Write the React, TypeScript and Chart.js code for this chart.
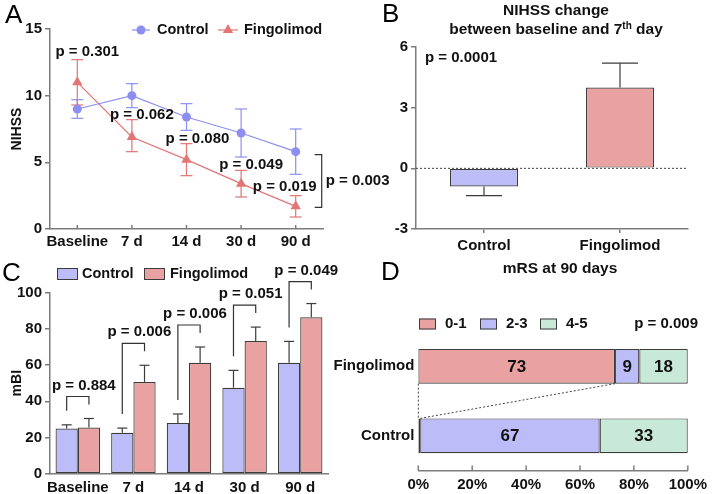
import React, { useEffect, useRef } from "react";
import { Chart, registerables } from "chart.js";

Chart.register(...registerables);

const FONT = "'Liberation Sans', Arial, Helvetica, sans-serif";

// ---------- Panel A: NIHSS over time ----------
const timeLabels = ["Baseline", "7 d", "14 d", "30 d", "90 d"];
const nihssControl = [9.0, 10.0, 8.4, 7.2, 5.8];
const nihssControlLo = [8.3, 9.1, 7.4, 5.4, 4.1];
const nihssControlHi = [9.7, 10.9, 9.4, 9.0, 7.5];
const nihssFingo = [11.0, 6.9, 5.2, 3.4, 1.7];
const nihssFingoLo = [9.3, 5.8, 4.0, 2.4, 0.9];
const nihssFingoHi = [12.7, 8.2, 6.4, 4.4, 2.5];
const nihssPValues = ["p = 0.301", "p = 0.062", "p = 0.080", "p = 0.049", "p = 0.019"];
const nihssOverallP = "p = 0.003";
const nihssTicks = [0, 5, 10, 15];

// ---------- Panel B: NIHSS change ----------
const changeGroups = ["Control", "Fingolimod"];
const changeValues = [-0.9, 4.0];
const changeErr = [0.45, 1.2];
const changeP = "p = 0.0001";

// ---------- Panel C: mBI ----------
const mbiControl = [25, 22.6, 28, 47.5, 61.3];
const mbiControlErr = [2, 2.6, 5, 9.6, 11.8];
const mbiFingo = [25.5, 50.7, 61.3, 73.3, 86.4];
const mbiFingoErr = [5, 9.2, 8.7, 7.7, 7.6];
const mbiPValues = ["p = 0.884", "p = 0.006", "p = 0.006", "p = 0.051", "p = 0.049"];

// ---------- Panel D: mRS at 90 days ----------
const mrsGroups = ["Fingolimod", "Control"];
const mrsCategories = ["0-1", "2-3", "4-5"];
const mrs01 = [73, 0.7];
const mrs23 = [9, 66.6];
const mrs45 = [18, 32.7];
const mrsP = "p = 0.009";

// ---------- styles ----------
const C_LINE = "#8e8ef2";
const F_LINE = "#e27575";
const C_FILL = "#bcbcf9";
const F_FILL = "#e9a1a1";
const G_FILL = "#c8e9d7";
const AXIS = "#7c7c7c";
const EDGE = "#3c3c3c";
const TEXT = "#111111";
const bold = (s = 14) => `bold ${s}px ${FONT}`;
const tickFont = { family: FONT, size: 15, weight: "bold" as const };
const titleFont = { family: FONT, size: 14, weight: "bold" as const };
const P_FONT = bold(15);
const LEG_FONT = bold(14.5);
const HEAD_FONT = bold(15.5);
const LETTER_FONT = `26px ${FONT}`;

function drawText(ctx: any, s: string, x: number, y: number, font: string, align = "left", baseline = "middle", color = TEXT) {
  ctx.save();
  ctx.font = font;
  ctx.fillStyle = color;
  ctx.textAlign = align;
  ctx.textBaseline = baseline;
  ctx.fillText(s, x, y);
  ctx.restore();
}

function line(ctx: any, x1: number, y1: number, x2: number, y2: number, color: string, w = 1, dash: number[] = []) {
  ctx.save();
  ctx.strokeStyle = color;
  ctx.lineWidth = w;
  ctx.setLineDash(dash);
  ctx.beginPath();
  ctx.moveTo(x1, y1);
  ctx.lineTo(x2, y2);
  ctx.stroke();
  ctx.restore();
}

function layoutFor(box: any, area: any) {
  return {
    padding: { left: 0, top: area.t - box.y, right: box.x + box.w - area.r, bottom: 0 },
    yWidth: area.l - box.x,
    xHeight: box.y + box.h - area.b,
  };
}

const yGrid = { display: true, drawOnChartArea: false, tickLength: 5, color: AXIS, lineWidth: 1.5 };
const axisBorder = { color: AXIS, width: 1.5 };

// ---------- Panel A ----------
const boxA = { x: 0, y: 0, w: 400, h: 256 };
const areaA = { l: 50, t: 29, r: 323, b: 229 };

function buildA() {
  const L = layoutFor(boxA, areaA);
  const ox = boxA.x, oy = boxA.y;
  const pDx = [10, 10, 11, 10, -11];
  const plugin = {
    id: "panelA",
    beforeDatasetsDraw(chart: any) {
      const ctx = chart.ctx;
      const xs = chart.scales.x, ys = chart.scales.y;
      const draw = (lo: number[], hi: number[], color: string) => {
        lo.forEach((_, i) => {
          const x = xs.getPixelForValue(i);
          const y1 = ys.getPixelForValue(lo[i]);
          const y2 = ys.getPixelForValue(hi[i]);
          line(ctx, x, y1, x, y2, color, 1.2);
          line(ctx, x - 6, y1, x + 6, y1, color, 1.2);
          line(ctx, x - 6, y2, x + 6, y2, color, 1.2);
        });
      };
      draw(nihssControlLo, nihssControlHi, C_LINE);
      draw(nihssFingoLo, nihssFingoHi, F_LINE);
    },
    afterDraw(chart: any) {
      const ctx = chart.ctx;
      const xs = chart.scales.x, ys = chart.scales.y;
      const b = chart.chartArea.bottom;
      timeLabels.forEach((_, i) => {
        const x = xs.getPixelForValue(i);
        line(ctx, x, b, x, b - 4, AXIS, 1.5);
      });
      nihssPValues.forEach((p, i) => {
        const x = xs.getPixelForValue(i) + pDx[i];
        const y = i === 0
          ? ys.getPixelForValue(nihssFingoHi[i]) - 8
          : (ys.getPixelForValue(nihssControlLo[i]) + ys.getPixelForValue(nihssFingoHi[i])) / 2 + 1.5;
        drawText(ctx, p, x, y, P_FONT, "center");
      });
      const last = timeLabels.length - 1;
      const bx = xs.getPixelForValue(last) + 26;
      const by1 = ys.getPixelForValue(nihssControl[last]) + 3;
      const by2 = ys.getPixelForValue(nihssFingo[last]) + 1;
      ctx.save();
      ctx.strokeStyle = "#333";
      ctx.lineWidth = 1.2;
      ctx.beginPath();
      ctx.moveTo(bx - 7, by1);
      ctx.lineTo(bx, by1);
      ctx.lineTo(bx, by2);
      ctx.lineTo(bx - 7, by2);
      ctx.stroke();
      ctx.restore();
      drawText(ctx, nihssOverallP, bx + 4, (by1 + by2) / 2, P_FONT, "left");
      const ly = 30 - oy;
      line(ctx, 132 - ox, ly, 150 - ox, ly, C_LINE, 1.2);
      ctx.save();
      ctx.fillStyle = C_LINE;
      ctx.beginPath();
      ctx.arc(141 - ox, ly, 4.5, 0, Math.PI * 2);
      ctx.fill();
      ctx.restore();
      drawText(ctx, "Control", 157 - ox, ly, LEG_FONT);
      line(ctx, 218 - ox, ly, 238 - ox, ly, F_LINE, 1.2);
      ctx.save();
      ctx.fillStyle = F_LINE;
      ctx.beginPath();
      const r = 6, cx = 228 - ox;
      ctx.moveTo(cx, ly - r);
      ctx.lineTo(cx + r * 0.866, ly + r / 2);
      ctx.lineTo(cx - r * 0.866, ly + r / 2);
      ctx.closePath();
      ctx.fill();
      ctx.restore();
      drawText(ctx, "Fingolimod", 244 - ox, ly, LEG_FONT);
      drawText(ctx, "A", 5 - ox, 23 - oy, LETTER_FONT, "left", "alphabetic", "#000");
    },
  };
  return {
    type: "line",
    data: {
      labels: timeLabels,
      datasets: [
        {
          label: "Control", data: nihssControl, borderColor: C_LINE, backgroundColor: C_LINE,
          pointBackgroundColor: C_LINE, pointBorderColor: C_LINE, borderWidth: 1.2,
          pointStyle: "circle", pointRadius: 4.5, pointBorderWidth: 0, tension: 0,
        },
        {
          label: "Fingolimod", data: nihssFingo, borderColor: F_LINE, backgroundColor: F_LINE,
          pointBackgroundColor: F_LINE, pointBorderColor: F_LINE, borderWidth: 1.2,
          pointStyle: "triangle", pointRadius: 6, pointBorderWidth: 0, tension: 0,
        },
      ],
    },
    options: {
      responsive: false,
      animation: false,
      layout: { padding: L.padding },
      plugins: { legend: { display: false }, tooltip: { enabled: false } },
      scales: {
        x: {
          type: "category", offset: true,
          grid: { display: false, drawTicks: false },
          border: axisBorder,
          ticks: { font: tickFont, color: TEXT, padding: 4, maxRotation: 0, autoSkip: false },
          afterFit: (s: any) => { s.height = L.xHeight; },
        },
        y: {
          min: 0, max: 15,
          afterBuildTicks: (s: any) => { s.ticks = nihssTicks.map((v) => ({ value: v })); },
          ticks: { font: tickFont, color: TEXT, padding: 3 },
          grid: yGrid,
          border: axisBorder,
          title: { display: true, text: "NIHSS", font: titleFont, color: TEXT, padding: { top: 9, bottom: 0 } },
          afterFit: (s: any) => { s.width = L.yWidth; },
        },
      },
    },
    plugins: [plugin],
  };
}

// ---------- Panel B ----------
const boxB = { x: 356, y: 0, w: 356, h: 256 };
const areaB = { l: 416, t: 47, r: 688, b: 229 };

function buildB() {
  const L = layoutFor(boxB, areaB);
  const ox = boxB.x, oy = boxB.y;
  const plugin = {
    id: "panelB",
    beforeDatasetsDraw(chart: any) {
      const ctx = chart.ctx;
      const ys = chart.scales.y;
      const { left, right } = chart.chartArea;
      const y0 = ys.getPixelForValue(0);
      line(ctx, left, y0, right, y0, "#444", 1, [2, 2]);
    },
    afterDatasetsDraw(chart: any) {
      const ctx = chart.ctx;
      const ys = chart.scales.y;
      const meta = chart.getDatasetMeta(0);
      meta.data.forEach((el: any, i: number) => {
        const v = changeValues[i];
        const end = v + Math.sign(v) * changeErr[i];
        const ye = ys.getPixelForValue(end);
        const half = el.width / 4 + 1;
        line(ctx, el.x, el.y, el.x, ye, EDGE, 1.2);
        line(ctx, el.x - half, ye, el.x + half, ye, EDGE, 1.2);
      });
    },
    afterDraw(chart: any) {
      const ctx = chart.ctx;
      const cx = 556 - ox;
      drawText(ctx, "NIHSS change", cx, 11 - oy, HEAD_FONT, "center");
      ctx.save();
      const partA = "between baseline and 7";
      const sup = "th";
      const partB = " day";
      ctx.font = HEAD_FONT;
      const wA = ctx.measureText(partA).width;
      const wB = ctx.measureText(partB).width;
      ctx.font = bold(10);
      const wS = ctx.measureText(sup).width;
      ctx.restore();
      const total = wA + wS + wB;
      let x = cx - total / 2;
      const y2 = 30 - oy;
      drawText(ctx, partA, x, y2, HEAD_FONT, "left");
      x += wA;
      drawText(ctx, sup, x, y2 - 4, bold(10), "left");
      x += wS;
      drawText(ctx, partB, x, y2, HEAD_FONT, "left");
      drawText(ctx, changeP, 425 - ox, 58 - oy, P_FONT, "left");
      drawText(ctx, "B", 382 - ox, 22 - oy, LETTER_FONT, "left", "alphabetic", "#000");
    },
  };
  return {
    type: "bar",
    data: {
      labels: changeGroups,
      datasets: [
        {
          data: changeValues, backgroundColor: [C_FILL, F_FILL], borderColor: EDGE, borderWidth: 1.2,
          borderSkipped: false, barPercentage: 0.5, categoryPercentage: 1,
        },
      ],
    },
    options: {
      responsive: false,
      animation: false,
      layout: { padding: L.padding },
      plugins: { legend: { display: false }, tooltip: { enabled: false } },
      scales: {
        x: {
          grid: { display: true, drawOnChartArea: false, offset: false, tickLength: 4, color: AXIS, lineWidth: 1.5 },
          border: axisBorder,
          ticks: { font: tickFont, color: TEXT, padding: 4 },
          afterFit: (s: any) => { s.height = L.xHeight; },
        },
        y: {
          min: -3, max: 6,
          ticks: { stepSize: 3, font: tickFont, color: TEXT, padding: 3 },
          grid: yGrid,
          border: axisBorder,
          afterFit: (s: any) => { s.width = L.yWidth; },
        },
      },
    },
    plugins: [plugin],
  };
}

// ---------- Panel C ----------
const boxC = { x: 0, y: 247, w: 356, h: 247 };
const areaC = { l: 50, t: 292.7, r: 328, b: 473.7 };

function buildC() {
  const L = layoutFor(boxC, areaC);
  const ox = boxC.x, oy = boxC.y;
  const plugin = {
    id: "panelC",
    afterDatasetsDraw(chart: any) {
      const ctx = chart.ctx;
      const ys = chart.scales.y;
      const m0 = chart.getDatasetMeta(0), m1 = chart.getDatasetMeta(1);
      const errs = [mbiControlErr, mbiFingoErr];
      [m0, m1].forEach((meta: any, d: number) => {
        meta.data.forEach((el: any, i: number) => {
          const vals = d === 0 ? mbiControl : mbiFingo;
          const ye = ys.getPixelForValue(vals[i] + errs[d][i]);
          line(ctx, el.x, el.y, el.x, ye, EDGE, 1.2);
          line(ctx, el.x - 5, ye, el.x + 5, ye, EDGE, 1.2);
        });
      });
      mbiPValues.forEach((p, i) => {
        const a = m0.data[i], b = m1.data[i];
        const la = ys.getPixelForValue(mbiControl[i] + mbiControlErr[i]) - 14;
        const lb = ys.getPixelForValue(mbiFingo[i] + mbiFingoErr[i]) - 14;
        const top = Math.min(la, lb) - 8;
        ctx.save();
        ctx.strokeStyle = "#333";
        ctx.lineWidth = 1.2;
        ctx.beginPath();
        ctx.moveTo(a.x, la);
        ctx.lineTo(a.x, top);
        ctx.lineTo(b.x, top);
        ctx.lineTo(b.x, lb);
        ctx.stroke();
        ctx.restore();
        drawText(ctx, p, (a.x + b.x) / 2 + 6, top - 11, P_FONT, "center");
      });
    },
    afterDraw(chart: any) {
      const ctx = chart.ctx;
      const ly = 274 - oy;
      const rect = (x: number, w: number, fill: string) => {
        ctx.save();
        ctx.fillStyle = fill;
        ctx.fillRect(x - ox, ly - 6, w, 12);
        ctx.strokeStyle = EDGE;
        ctx.lineWidth = 1;
        ctx.strokeRect(x - ox + 0.5, ly - 6 + 0.5, w - 1, 11);
        ctx.restore();
      };
      rect(57, 21, C_FILL);
      drawText(ctx, "Control", 82 - ox, ly, LEG_FONT);
      rect(144, 21, F_FILL);
      drawText(ctx, "Fingolimod", 170 - ox, ly, LEG_FONT);
      drawText(ctx, "C", 2 - ox, 281 - oy, LETTER_FONT, "left", "alphabetic", "#000");
    },
  };
  return {
    type: "bar",
    data: {
      labels: timeLabels,
      datasets: [
        {
          label: "Control", data: mbiControl, backgroundColor: C_FILL, borderColor: EDGE, borderWidth: 1.2,
          borderSkipped: false, barPercentage: 1, categoryPercentage: 0.8,
        },
        {
          label: "Fingolimod", data: mbiFingo, backgroundColor: F_FILL, borderColor: EDGE, borderWidth: 1.2,
          borderSkipped: false, barPercentage: 1, categoryPercentage: 0.8,
        },
      ],
    },
    options: {
      responsive: false,
      animation: false,
      layout: { padding: L.padding },
      plugins: { legend: { display: false }, tooltip: { enabled: false } },
      scales: {
        x: {
          grid: { display: false, drawTicks: false },
          border: axisBorder,
          ticks: { font: tickFont, color: TEXT, padding: 5, maxRotation: 0, autoSkip: false },
          afterFit: (s: any) => { s.height = L.xHeight; },
        },
        y: {
          min: 0, max: 100,
          ticks: { stepSize: 20, font: tickFont, color: TEXT, padding: 3 },
          grid: yGrid,
          border: axisBorder,
          title: { display: true, text: "mBI", font: titleFont, color: TEXT, padding: { top: 9, bottom: 0 } },
          afterFit: (s: any) => { s.width = L.yWidth; },
        },
      },
    },
    plugins: [plugin],
  };
}

// ---------- Panel D ----------
const boxD = { x: 326, y: 247, w: 386, h: 247 };
const areaD = { l: 418.3, t: 331.5, r: 692, b: 470.5 };

function buildD() {
  const L = layoutFor(boxD, areaD);
  const ox = boxD.x, oy = boxD.y;
  const fills = [F_FILL, C_FILL, G_FILL];
  const series = [mrs01, mrs23, mrs45];
  const plugin = {
    id: "panelD",
    afterDatasetsDraw(chart: any) {
      const ctx = chart.ctx;
      series.forEach((vals, d) => {
        const meta = chart.getDatasetMeta(d);
        meta.data.forEach((el: any, i: number) => {
          if (vals[i] < 5) return;
          drawText(ctx, String(Math.round(vals[i])), (el.x + el.base) / 2, el.y + 1, bold(17), "center");
        });
      });
      const m = chart.getDatasetMeta(0);
      const f = m.data[0], c = m.data[1];
      const fb = f.y + f.height / 2, ct = c.y - c.height / 2;
      line(ctx, f.base, fb, c.base, ct, "#444", 1, [2, 2]);
      line(ctx, f.x, fb, c.x, ct, "#444", 1, [2, 2]);
    },
    afterDraw(chart: any) {
      const ctx = chart.ctx;
      const xs = chart.scales.x;
      const b = chart.chartArea.bottom;
      xs.ticks.forEach((t: any) => {
        const x = xs.getPixelForValue(t.value);
        line(ctx, x, b, x, b - 5, AXIS, 1.5);
      });
      drawText(ctx, "mRS at 90 days", 560 - ox, 269 - oy, HEAD_FONT, "center");
      const ly = 324 - oy;
      const lx = [419, 480, 540];
      mrsCategories.forEach((cat, k) => {
        ctx.save();
        ctx.fillStyle = fills[k];
        ctx.fillRect(lx[k] - ox, ly - 5.5, 17, 11);
        ctx.strokeStyle = EDGE;
        ctx.lineWidth = 1;
        ctx.strokeRect(lx[k] - ox + 0.5, ly - 5.5 + 0.5, 16, 10);
        ctx.restore();
        drawText(ctx, cat, lx[k] + 26 - ox, ly, bold(15));
      });
      drawText(ctx, mrsP, 698 - ox, ly, P_FONT, "right");
      drawText(ctx, "D", 381 - ox, 280 - oy, LETTER_FONT, "left", "alphabetic", "#000");
    },
  };
  return {
    type: "bar",
    data: {
      labels: mrsGroups,
      datasets: series.map((vals, d) => ({
        label: mrsCategories[d], data: vals, backgroundColor: fills[d], borderColor: EDGE, borderWidth: 1.2,
        borderSkipped: false, barPercentage: 0.5, categoryPercentage: 1,
      })),
    },
    options: {
      indexAxis: "y",
      responsive: false,
      animation: false,
      layout: { padding: L.padding },
      plugins: { legend: { display: false }, tooltip: { enabled: false } },
      scales: {
        x: {
          stacked: true, min: 0, max: 100,
          grid: { display: false, drawTicks: false },
          border: axisBorder,
          ticks: { stepSize: 20, font: tickFont, color: TEXT, padding: 5, callback: (v: any) => `${v}%` },
          afterFit: (s: any) => { s.height = L.xHeight; },
        },
        y: {
          stacked: true,
          grid: { display: false, drawTicks: false },
          border: { display: false },
          ticks: { font: tickFont, color: TEXT, padding: 4 },
          afterFit: (s: any) => { s.width = L.yWidth; },
        },
      },
    },
    plugins: [plugin],
  };
}

function ChartCanvas({ box, build }: { box: any; build: () => any }) {
  const ref = useRef<HTMLCanvasElement | null>(null);
  useEffect(() => {
    const chart = new Chart(ref.current as HTMLCanvasElement, build());
    return () => chart.destroy();
  }, []);
  return (
    <canvas
      ref={ref}
      width={box.w}
      height={box.h}
      style={{ position: "absolute", left: box.x, top: box.y, width: box.w, height: box.h }}
    />
  );
}

export default function App() {
  return (
    <div style={{ position: "fixed", left: 0, top: 0, width: 712, height: 494, background: "#fff", overflow: "hidden" }}>
      <ChartCanvas box={boxA} build={buildA} />
      <ChartCanvas box={boxB} build={buildB} />
      <ChartCanvas box={boxC} build={buildC} />
      <ChartCanvas box={boxD} build={buildD} />
    </div>
  );
}
